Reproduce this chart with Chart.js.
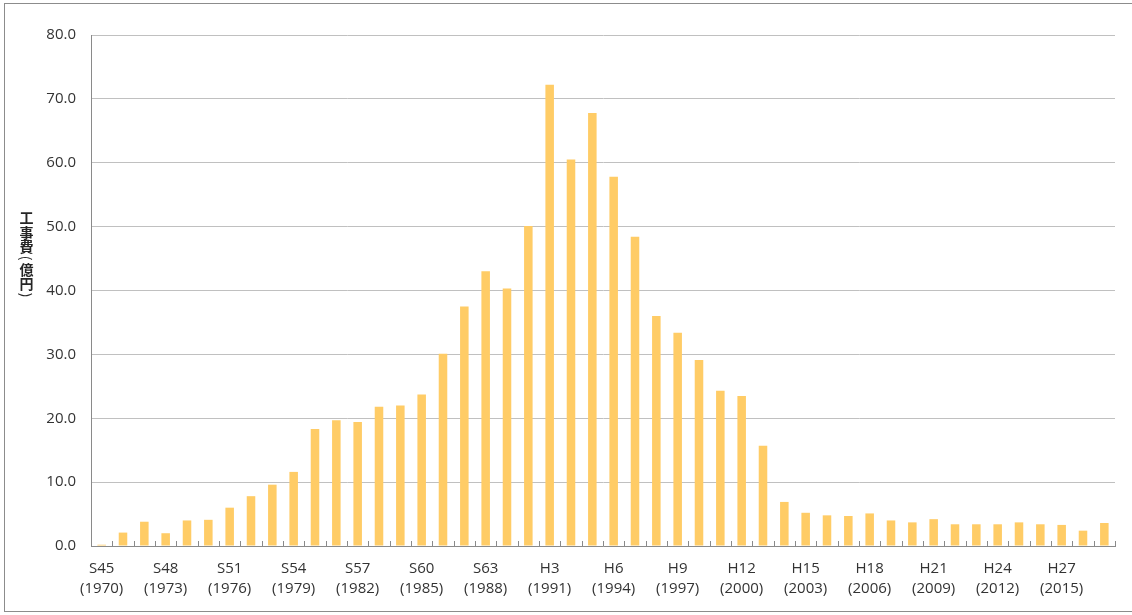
<!DOCTYPE html>
<html lang="ja">
<head>
<meta charset="utf-8">
<title>工事費の推移</title>
<script src="https://cdn.jsdelivr.net/npm/chart.js@4.4.1/dist/chart.umd.min.js"></script>
<style>
  html, body { margin: 0; padding: 0; background: #fff; }
  #wrap { position: relative; width: 1132px; height: 615px; overflow: hidden; }
  #frame {
    position: absolute; left: 4px; top: 3px; width: 1140px; height: 609px;
    border: 1.5px solid #8c8c8c; box-sizing: border-box; pointer-events: none;
  }
  #chart { position: absolute; left: 0; top: 0; }
</style>
</head>
<body>
<div id="wrap">
  <canvas id="chart" width="1132" height="615"></canvas>
  <div id="frame"></div>
</div>
<script>
// fiscal years shown on the category axis
const years = [
  1970, 1971, 1972, 1973, 1974, 1975, 1976, 1977, 1978, 1979,
  1980, 1981, 1982, 1983, 1984, 1985, 1986, 1987, 1988, 1989,
  1990, 1991, 1992, 1993, 1994, 1995, 1996, 1997, 1998, 1999,
  2000, 2001, 2002, 2003, 2004, 2005, 2006, 2007, 2008, 2009,
  2010, 2011, 2012, 2013, 2014, 2015, 2016, 2017
];

// 工事費 (億円)
const costs = [
  0.2, 2.1, 3.8, 2.0, 4.0, 4.1, 6.0, 7.8, 9.6, 11.6,
  18.3, 19.7, 19.4, 21.8, 22.0, 23.7, 30.1, 37.5, 43.0, 40.3,
  50.1, 72.2, 60.5, 67.8, 57.8, 48.4, 36.0, 33.4, 29.1, 24.3,
  23.5, 15.7, 6.9, 5.2, 4.8, 4.7, 5.1, 4.0, 3.7, 4.2,
  3.4, 3.4, 3.4, 3.7, 3.4, 3.3, 2.4, 3.6
];

// every third year carries a 和暦 / 西暦 label
const tickYears = [1970, 1973, 1976, 1979, 1982, 1985, 1988, 1991, 1994, 1997, 2000, 2003, 2006, 2009, 2012, 2015];
const tickEras = ['S45', 'S48', 'S51', 'S54', 'S57', 'S60', 'S63', 'H3', 'H6', 'H9', 'H12', 'H15', 'H18', 'H21', 'H24', 'H27'];

const yTicks = [0, 10, 20, 30, 40, 50, 60, 70, 80];
const yTitle = '工事費(億円)';

const TEXT = '#333333';
const GRID = '#c0c0c0';
const AXIS = '#8a8a8a';
const FONT = { family: '"Open Sans", sans-serif', size: 15, lineHeight: 1.34 };

const labels = years.map(y => {
  const i = tickYears.indexOf(y);
  return i >= 0 ? [tickEras[i], `(${y})`] : '';
});

// small tick marks at the category boundaries, pointing up into the plot
const boundaryTicks = {
  id: 'boundaryTicks',
  afterDatasetsDraw(chart) {
    const xs = chart.scales.x;
    const ctx = chart.ctx;
    const half = (xs.getPixelForValue(1) - xs.getPixelForValue(0)) / 2;
    ctx.save();
    ctx.strokeStyle = AXIS;
    ctx.lineWidth = 1;
    ctx.beginPath();
    for (let i = 0; i <= years.length; i++) {
      const x = Math.round(xs.getPixelForValue(i) - half) + 0.5;
      ctx.moveTo(x, xs.top - 5);
      ctx.lineTo(x, xs.top);
    }
    ctx.stroke();
    ctx.restore();
  }
};

// stacked (縦書き) axis title, brackets turned on their side like in Excel
const stackedTitle = {
  id: 'stackedTitle',
  afterDraw(chart) {
    const ctx = chart.ctx;
    const x = 26.5;
    let top = 210.5;
    ctx.save();
    ctx.fillStyle = '#262626';
    ctx.font = 'bold 14px "Noto Sans CJK JP", sans-serif';
    ctx.textAlign = 'center';
    ctx.textBaseline = 'middle';
    for (const ch of yTitle) {
      const isBracket = ch === '(' || ch === ')';
      const adv = isBracket ? 8 : 14.5;
      const cy = top + adv / 2;
      if (isBracket) {
        ctx.save();
        ctx.translate(x, cy);
        ctx.rotate(Math.PI / 2);
        ctx.font = '14px "Noto Sans CJK JP", sans-serif';
        ctx.fillText(ch, 0, 0);
        ctx.restore();
      } else {
        ctx.fillText(ch, x, cy);
      }
      top += adv;
    }
    ctx.restore();
  }
};

new Chart(document.getElementById('chart'), {
  type: 'bar',
  data: {
    labels,
    datasets: [{
      label: '工事費',
      data: costs,
      backgroundColor: '#FFCC66',
      borderWidth: 0,
      barPercentage: 0.4,
      categoryPercentage: 1.0
    }]
  },
  options: {
    responsive: false,
    animation: false,
    devicePixelRatio: 1,
    layout: { padding: { left: 0, right: 17, top: 35, bottom: 0 } },
    plugins: {
      legend: { display: false },
      tooltip: { enabled: false }
    },
    scales: {
      x: {
        grid: { display: false },
        border: { display: true, color: AXIS, width: 1 },
        ticks: {
          autoSkip: false,
          maxRotation: 0,
          minRotation: 0,
          padding: 5,
          color: TEXT,
          font: FONT
        },
        afterFit: (scale) => { scale.height = 615 - 546; }
      },
      y: {
        min: 0,
        max: 80,
        afterBuildTicks: (scale) => { scale.ticks = yTicks.map(v => ({ value: v })); },
        grid: { color: GRID, lineWidth: 1, drawTicks: false },
        border: { display: true, color: AXIS, width: 1 },
        ticks: {
          padding: 15,
          color: TEXT,
          font: FONT,
          callback: (v) => Number(v).toFixed(1)
        },
        afterFit: (scale) => { scale.width = 91; }
      }
    }
  },
  plugins: [boundaryTicks, stackedTitle]
});
</script>
</body>
</html>
